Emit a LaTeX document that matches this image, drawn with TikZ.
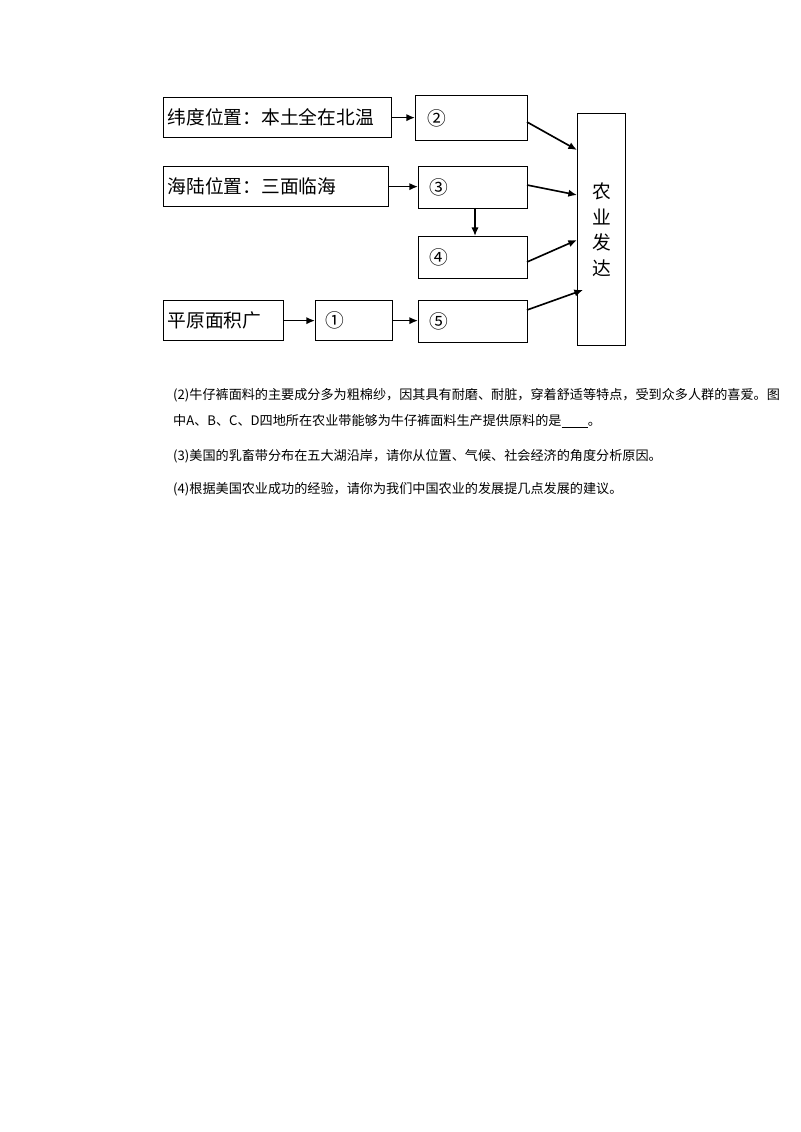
\documentclass[tikz,border=0pt]{standalone}
\usepackage{fontspec}
\newfontfamily\cjk{Noto Sans CJK SC}
\usepackage{tikz}
\usetikzlibrary{arrows.meta}

\tikzset{
  box/.style={draw, line width=1.1pt, anchor=north west, inner sep=0pt, font=\cjk\fontsize{16}{16}\selectfont},
  arr/.style={-{Latex[length=2.6mm,width=2.2mm]}, line width=1.4pt},
  txt/.style={anchor=west, inner sep=0pt, font=\cjk\fontsize{11.2}{11.2}\selectfont}
}

\begin{document}
\begin{tikzpicture}[x=0.03cm, y=-0.03cm]
		\useasboundingbox (0,0) rectangle (800,1132);
		\node[box, minimum width=228*0.03cm, minimum height=40*0.03cm, text width=220*0.03cm] (wei) at (163,97) {纬度位置：本土全在北温};
		\node[box, minimum width=112*0.03cm, minimum height=45*0.03cm, text width=100*0.03cm] (n2) at (415,95) {\ ②};
		\node[box, minimum width=225*0.03cm, minimum height=40*0.03cm, text width=217*0.03cm] (hai) at (163,166) {海陆位置：三面临海};
		\node[box, minimum width=109*0.03cm, minimum height=42*0.03cm, text width=100*0.03cm] (n3) at (418,166) {\ ③};
		\node[box, minimum width=109*0.03cm, minimum height=42*0.03cm, text width=100*0.03cm] (n4) at (418,236) {\ ④};
		\node[box, minimum width=120*0.03cm, minimum height=40*0.03cm, text width=112*0.03cm] (ping) at (163,300) {平原面积广};
		\node[box, minimum width=77*0.03cm, minimum height=40*0.03cm, text width=70*0.03cm] (n1) at (315,300) {\ ①};
		\node[box, minimum width=109*0.03cm, minimum height=42*0.03cm, text width=100*0.03cm] (n5) at (418,300) {\ ⑤};
		\node[box, minimum width=48*0.03cm, minimum height=232*0.03cm, align=center] (ny) at (577,113) {农\\[6pt]业\\[6pt]发\\[6pt]达};

		\draw[arr] (wei.east) -- (n2.west |- wei.east);
		\draw[arr] (hai.east) -- (n3.west |- hai.east);
		\draw[arr] (475,208) -- (475,236);
		\draw[arr] (ping.east) -- (n1.west);
		\draw[arr] (n1.east) -- (n5.west |- n1.east);
		\draw[arr] (527,122) -- (577,150);
		\draw[arr] (527,185) -- (577,195);
		\draw[arr] (527,262) -- (577,240);
		\draw[arr] (527,310) -- (583,290);

		\node[txt] (t1) at (173,395) {(2)牛仔裤面料的主要成分多为粗棉纱，因其具有耐磨、耐脏，穿着舒适等特点，受到众多人群的喜爱。图};
		\node[txt] (t2) at (173,421) {中A、B、C、D四地所在农业带能够为牛仔裤面料生产提供原料的是\underline{\hspace{2em}}。};
		\node[txt] (t3) at (173,456) {(3)美国的乳畜带分布在五大湖沿岸，请你从位置、气候、社会经济的角度分析原因。};
		\node[txt] (t4) at (173,489) {(4)根据美国农业成功的经验，请你为我们中国农业的发展提几点发展的建议。};
		\end{tikzpicture}
\end{document}
